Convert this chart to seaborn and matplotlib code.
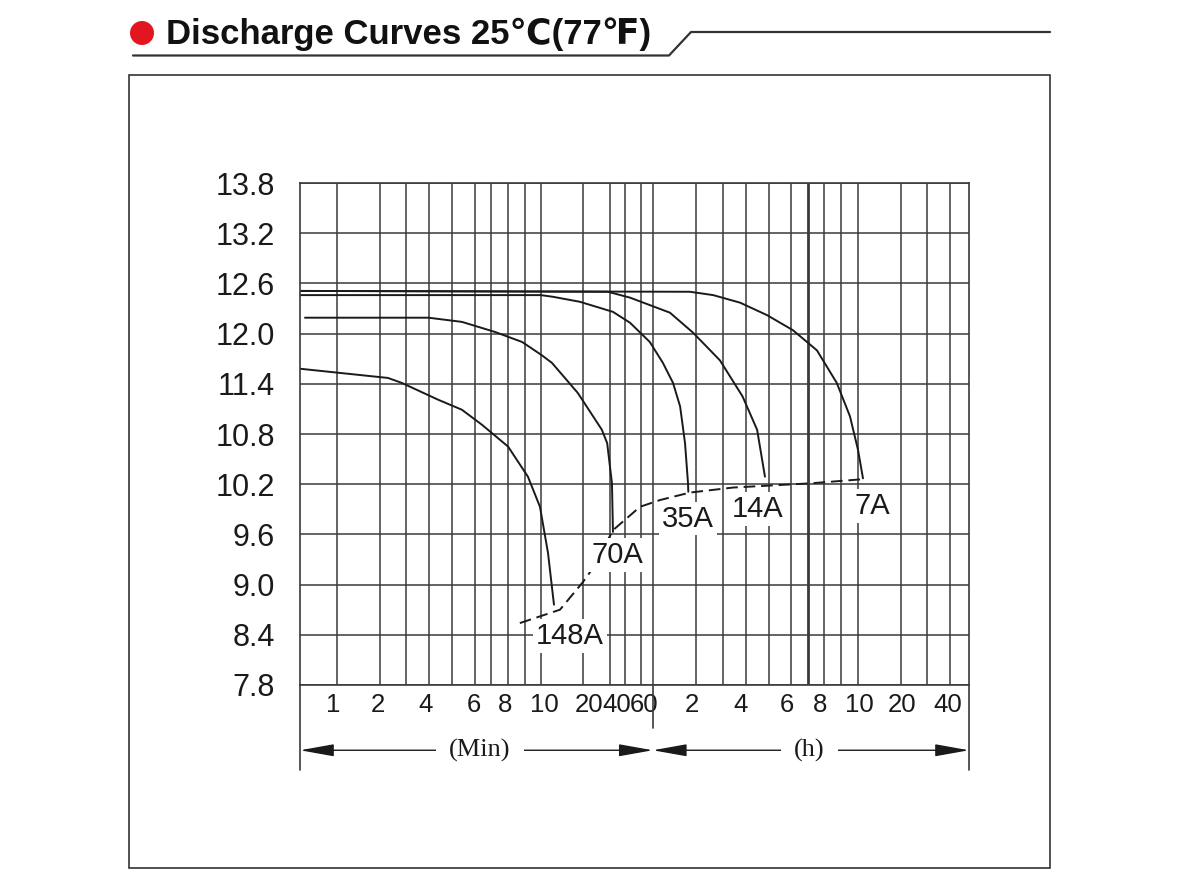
import numpy as np
import pandas as pd
import matplotlib
matplotlib.use("Agg")
import matplotlib.pyplot as plt
import matplotlib.transforms as mtransforms
import seaborn as sns
from matplotlib.patches import Ellipse, Rectangle
from matplotlib.lines import Line2D

# discharge time (minutes) and terminal voltage (V)
t_148a = [0.5, 2.27, 2.82, 4.39, 5.42, 6.41, 8.02, 9.2, 9.94, 11.24, 12.41]
v_148a = [11.58, 11.47, 11.41, 11.21, 11.09, 10.91, 10.65, 10.29, 9.93, 9.38, 8.76]

t_70a = [0.55, 4.0, 5.42, 7.21, 8.85, 10.18, 12.0, 18.4, 26.6, 28.8, 31.2, 31.8]
v_70a = [12.19, 12.19, 12.14, 12.02, 11.90, 11.74, 11.65, 11.29, 10.85, 10.69, 10.21, 9.63]

t_35a = [0.5, 10.0, 12.2, 19.05, 31.8, 42.9, 57.3, 70.5, 82.9, 92.8, 100.4, 105.3, 105.8]
v_35a = [12.46, 12.46, 12.44, 12.38, 12.26, 12.13, 11.90, 11.65, 11.41, 11.13, 10.69, 10.21, 10.11]

t_14a = [0.5, 29.1, 42.9, 78.9, 114.3, 172.6, 230.4, 267.9, 289.0]
v_14a = [12.51, 12.50, 12.43, 12.25, 12.01, 11.68, 11.25, 10.85, 10.29]

t_7a = [0.5, 108.7, 155.6, 223.3, 295.3, 365.8, 452.8, 524.7, 571.7, 603.0, 653.5]
v_7a = [12.51, 12.50, 12.46, 12.37, 12.22, 12.04, 11.80, 11.41, 11.01, 10.61, 10.27]

# end-of-discharge voltage line (dashed)
t_end = [8.71, 13.7, 20.0, 23.3, 31.8, 49.4, 67.1, 108.7, 204.8, 427.9, 653.5]
v_end = [8.54, 8.70, 9.03, 9.20, 9.65, 9.93, 10.01, 10.10, 10.16, 10.21, 10.26]

curve_names = ["148A", "70A", "35A", "14A", "7A"]
label_t = [16.1, 34.5, 105.0, 270.0, 756.0]
label_v = [8.39, 9.35, 9.79, 9.90, 9.94]

volt_ticks = [7.8, 8.4, 9.0, 9.6, 10.2, 10.8, 11.4, 12.0, 12.6, 13.2, 13.8]
grid_minutes = [1, 2, 3, 4, 5, 6, 7, 8, 9, 10, 20, 30, 40, 50, 60,
                120, 180, 240, 300, 360, 420, 480, 540, 600, 1200, 1800, 2400]
label_minutes = [1, 2, 4, 6, 8, 10, 20, 40, 60, 120, 240, 360, 480, 600, 1200, 2400]
label_text = ["1", "2", "4", "6", "8", "10", "20", "40", "60",
              "2", "4", "6", "8", "10", "20", "40"]
# small horizontal nudges (px) of the printed tick numbers
label_nudge = [-3, -2, -3, -1.5, -3, 3.5, 6.5, -8.5, -9, -4.5, -5, -4, -4.5, 2, 1, -2.5]

# the printed time axis is a hand-drawn quasi-log grid: piecewise scale
scale_vals = [0.5] + grid_minutes + [3000]
scale_pos = [300, 336.5, 379.8, 405.9, 428.5, 451.5, 475, 491.3, 507.7, 524.5,
             540.9, 582.9, 609.9, 625, 640.9, 652.8, 696.2, 722.7, 745.8, 768.8,
             791.3, 807.7, 824.1, 840.9, 857.7, 900.6, 927.2, 950.2, 969]
log_vals = np.log10(scale_vals)


def fwd(x):
    x = np.asarray(x, dtype=float)
    lx = np.log10(np.where(x > 0, x, 1e-6))
    return np.interp(lx, log_vals, scale_pos)


def inv(p):
    return 10 ** np.interp(np.asarray(p, dtype=float), scale_pos, log_vals)


frames = []
for name, t, v in zip(curve_names,
                      [t_148a, t_70a, t_35a, t_14a, t_7a],
                      [v_148a, v_70a, v_35a, v_14a, v_7a]):
    frames.append(pd.DataFrame({"minutes": t, "volts": v, "curve": name}))
df = pd.concat(frames, ignore_index=True)
df_end = pd.DataFrame({"minutes": t_end, "volts": v_end})

sns.set_style("white")
plt.rcParams['font.family'] = ['Liberation Sans', 'DejaVu Sans']

W, H = 1192, 886
fig = plt.figure(figsize=(W / 100, H / 100), dpi=100)
ax = fig.add_axes([300 / W, 1 - 685 / H, (969 - 300) / W, (685 - 183) / H])
ax.set_xscale('function', functions=(fwd, inv))

grid_col = '#3a3a3a'
for m in grid_minutes:
    ax.axvline(m, color=grid_col, lw=2.0 if m == 420 else 1.1, zorder=0.5)
for v in volt_ticks:
    ax.axhline(v, color=grid_col, lw=1.1, zorder=0.5)

sns.lineplot(data=df, x="minutes", y="volts", units="curve", estimator=None,
             sort=False, color='#1a1a1a', lw=1.4, ax=ax, legend=False, zorder=2.5)
sns.lineplot(data=df_end, x="minutes", y="volts", estimator=None, sort=False,
             color='#1a1a1a', lw=1.4, ax=ax, legend=False, zorder=2,
             linestyle=(0, (6, 3)))

for name, t, v in zip(curve_names, label_t, label_v):
    ax.text(t, v, name, fontsize=21, ha='center', va='center', color='#1a1a1a',
            zorder=3, bbox=dict(facecolor='white', edgecolor='none', pad=2))

ax.set_xlim(0.5, 3000)
ax.set_ylim(7.8, 13.8)
ax.set_yticks(volt_ticks)
ax.set_yticklabels([f"{v:.1f}" for v in volt_ticks], fontsize=22)
ax.set_xticks(label_minutes)
ax.set_xticklabels(label_text, fontsize=18.5)
ax.xaxis.set_minor_locator(matplotlib.ticker.NullLocator())
ax.tick_params(axis='both', length=0, colors='#1a1a1a')
ax.tick_params(axis='y', pad=18)
ax.tick_params(axis='x', pad=6)
for lab, dx in zip(ax.get_xticklabels(), label_nudge):
    lab.set_transform(lab.get_transform() +
                      mtransforms.ScaledTranslation(dx / 100, 0, fig.dpi_scale_trans))
ax.set_xlabel("")
ax.set_ylabel("")
for sp in ax.spines.values():
    sp.set_color(grid_col)
    sp.set_linewidth(1.2)

# time-unit arrows under the axis
xt = ax.get_xaxis_transform()
arrow_y = -0.13
for x0, x1 in [(0.5, 60), (60, 3000)]:
    ax.annotate('', xy=(x0, arrow_y), xytext=(x1, arrow_y), xycoords=xt, textcoords=xt,
                arrowprops=dict(arrowstyle='<|-|>,head_length=1.4,head_width=0.25',
                                mutation_scale=15, color='#1a1a1a', lw=1.0,
                                shrinkA=0, shrinkB=0), annotation_clip=False)
for x, y0 in [(0.5, -0.17), (60, -0.086), (3000, -0.17)]:
    ax.plot([x, x], [y0, 0], transform=xt, color=grid_col, lw=1.2, clip_on=False)
for xf, txt in [(0.269, "(Min)"), (0.761, "(h)")]:
    ax.text(xf, arrow_y, txt, transform=ax.transAxes, ha='center', va='center',
            fontsize=19, fontfamily=['Liberation Serif', 'DejaVu Serif'], color='#1a1a1a',
            bbox=dict(boxstyle='square,pad=0.5', facecolor='white', edgecolor='none'))

# header: red bullet, title, underline, frame
fig.add_artist(Ellipse((142 / W, 1 - 33 / H), 24 / W, 24 / H, transform=fig.transFigure,
                       facecolor='#e3161f', edgecolor='none'))
fig.text(166 / W, 1 - 34 / H, "Discharge Curves 25\u2103(77\u2109)", fontsize=25,
         fontweight='bold', va='center', ha='left', color='#111111',
         family=['Liberation Sans', 'DejaVu Sans'])
px = [133, 669, 691, 1050]
py = [55.5, 55.5, 32, 32]
fig.add_artist(Line2D([p / W for p in px], [1 - p / H for p in py],
                      transform=fig.transFigure, color='#333333', lw=1.6))
fig.add_artist(Rectangle((129 / W, 1 - 868 / H), 921 / W, 793 / H, transform=fig.transFigure,
                         fill=False, edgecolor='#333333', lw=1.2))

fig.savefig("out.png", dpi=100)
